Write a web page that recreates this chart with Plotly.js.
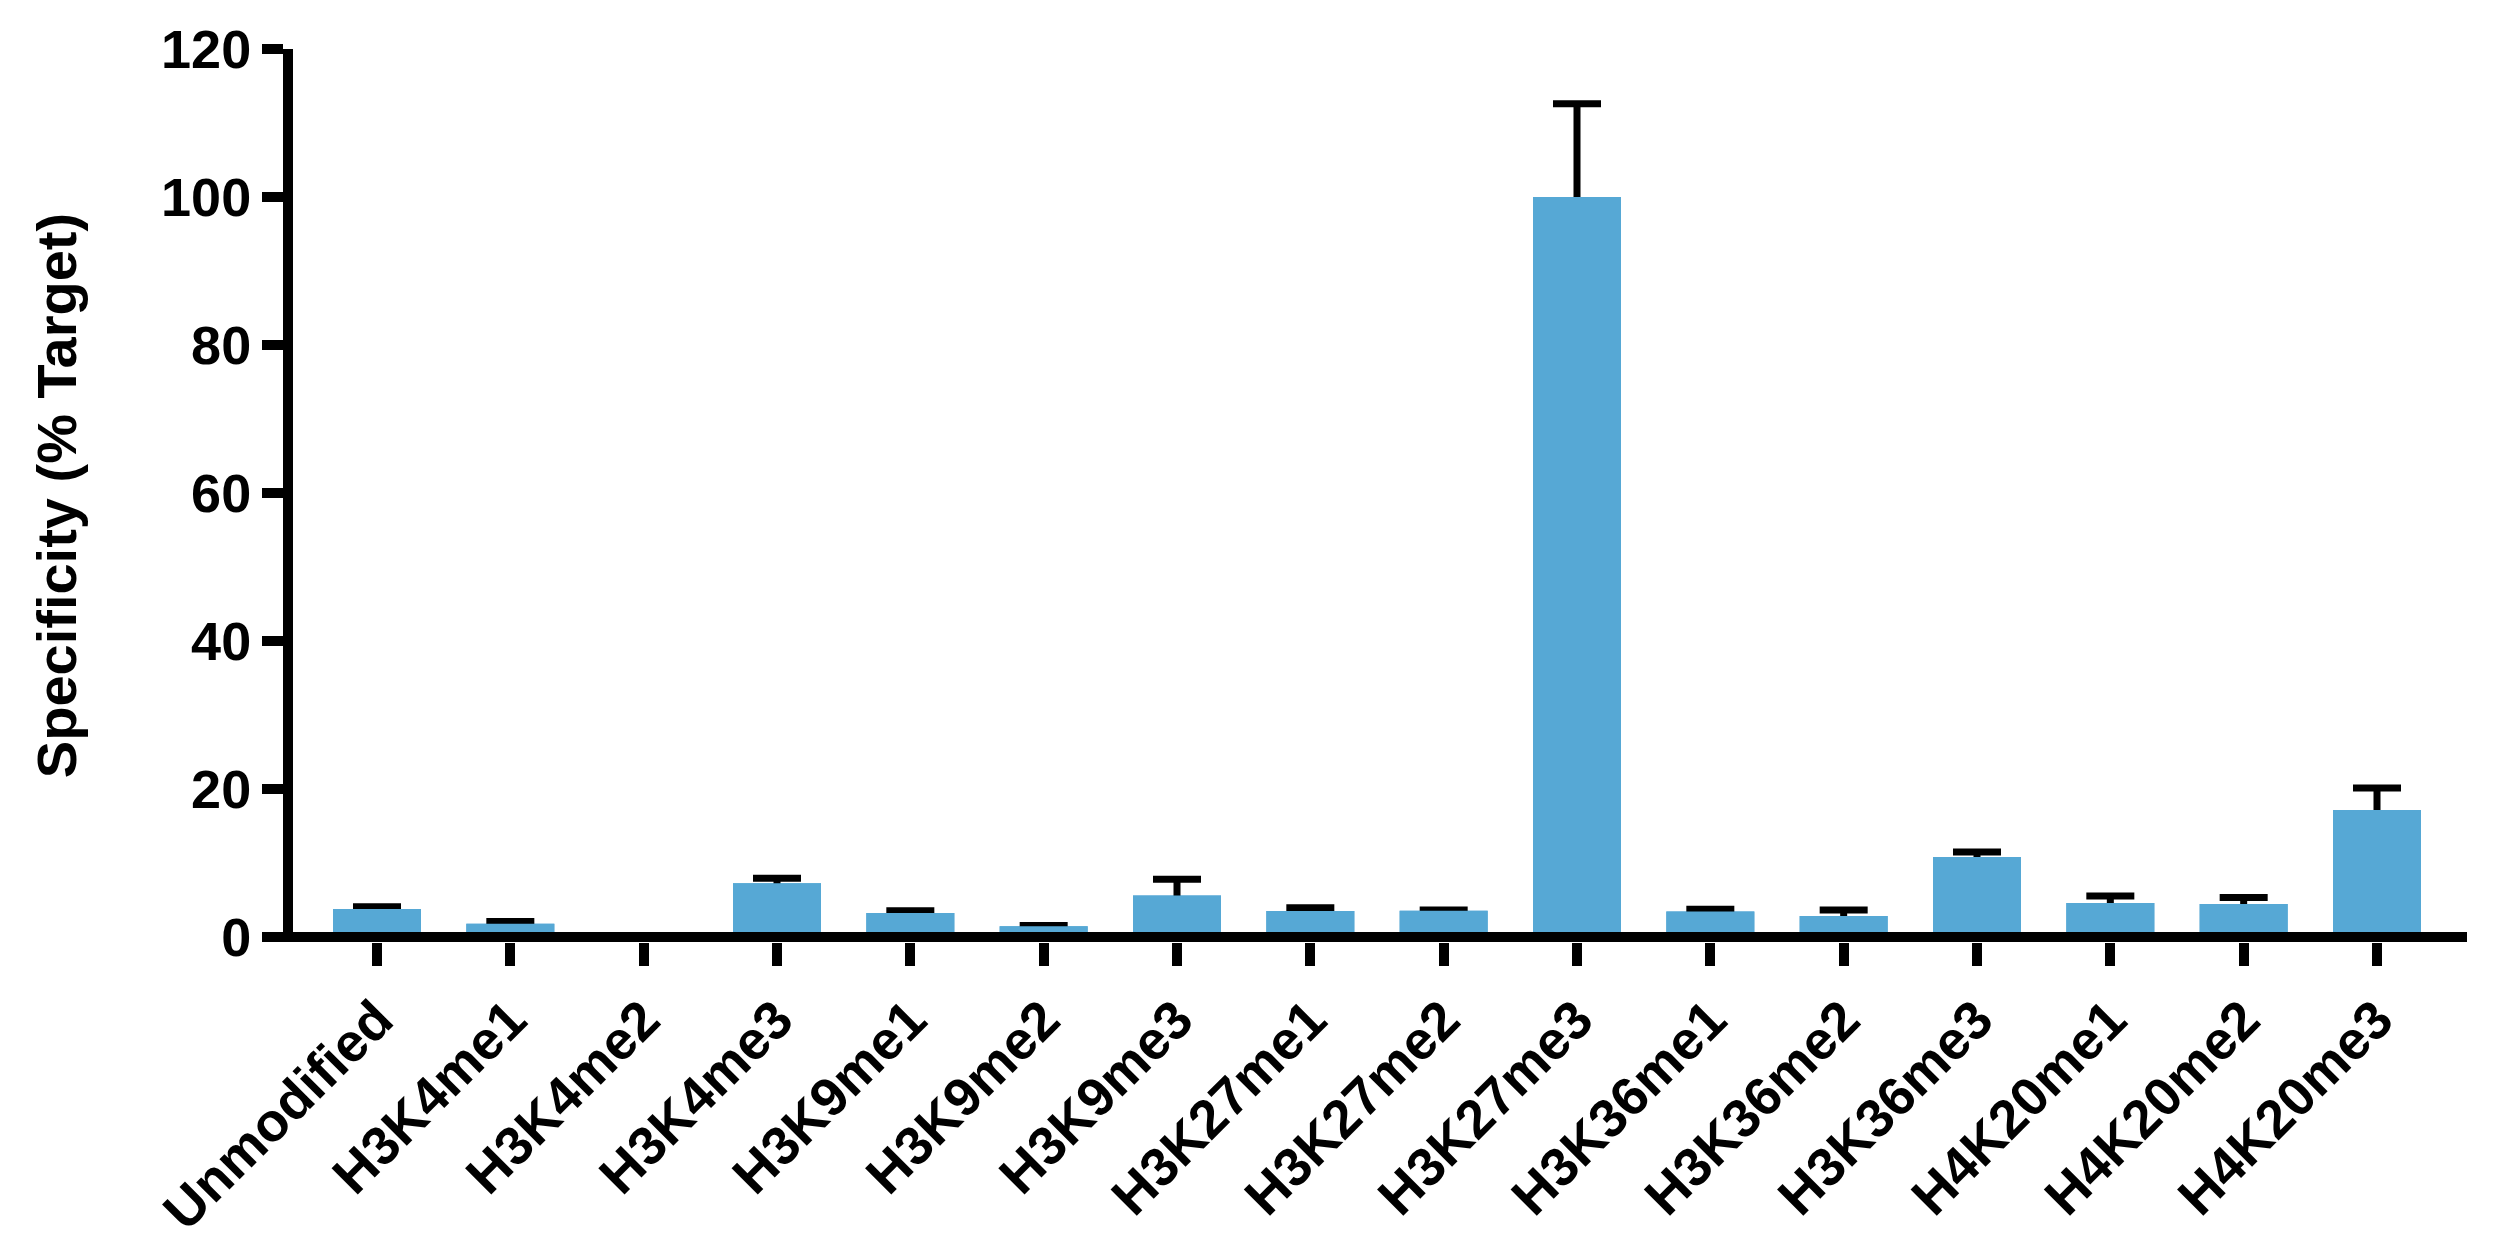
<!DOCTYPE html>
<html>
<head>
<meta charset="utf-8">
<script src="https://cdn.plot.ly/plotly-3.0.1.min.js"></script>
<style>html,body{margin:0;padding:0;background:#fff;}#chart{width:2500px;height:1260px;}</style>
</head>
<body>
<div id="chart"></div>
<script>
const categories = ["Unmodified","H3K4me1","H3K4me2","H3K4me3","H3K9me1","H3K9me2","H3K9me3","H3K27me1","H3K27me2","H3K27me3","H3K36me1","H3K36me2","H3K36me3","H4K20me1","H4K20me2","H4K20me3"];
const specificity = [3.8, 1.8, 0, 7.25, 3.25, 1.45, 5.6, 3.5, 3.55, 100, 3.45, 2.85, 10.8, 4.6, 4.45, 17.15];
const sem = [0.3, 0.3, 0, 0.7, 0.3, 0.1, 2.2, 0.45, 0.1, 12.6, 0.3, 0.8, 0.7, 0.95, 0.9, 3.0];
const yTicks = [0, 20, 40, 60, 80, 100, 120];

const barColor = '#56a8d5';
const font = {family: 'Liberation Sans, Arial, sans-serif', color: '#000', size: 54, weight: 'bold'};

const traces = [
  {
    type: 'bar', x: categories, y: specificity,
    marker: {color: barColor, line: {width: 0}},
    width: 0.66,
    error_y: {type: 'data', symmetric: false, array: sem, arrayminus: specificity,
              color: '#000', thickness: 7, width: 24, visible: true},
    hoverinfo: 'none', showlegend: false
  },
  {
    type: 'bar', x: categories, y: specificity,
    marker: {color: barColor, line: {width: 0}},
    width: 0.66,
    hoverinfo: 'none', showlegend: false
  }
];

const layout = {
  width: 2500, height: 1260,
  margin: {l: 293, r: 33, t: 49, b: 318, pad: 0},
  paper_bgcolor: '#fff', plot_bgcolor: '#fff',
  barmode: 'overlay',
  font: font,
  xaxis: {
    type: 'category', range: [-0.63, 15.675],
    showline: false, zeroline: false, showgrid: false,
    ticks: 'outside', ticklen: 23, tickwidth: 10, tickcolor: '#000',
    tickangle: -45, tickfont: font
  },
  yaxis: {
    range: [-0.676, 120], tickvals: yTicks, ticktext: yTicks.map(String),
    showline: true, linewidth: 10, linecolor: '#000',
    zeroline: false, showgrid: false,
    ticks: 'outside', ticklen: 21, tickwidth: 10, tickcolor: '#000',
    tickfont: font,
    title: {text: 'Specificity (% Target)', font: Object.assign({}, font, {size: 56}), standoff: 70}
  },
  shapes: [
    {type: 'line', xref: 'paper', x0: 0, x1: 1, yref: 'y', y0: 0, y1: 0,
     line: {color: '#000', width: 10}, layer: 'above'}
  ]
};

Plotly.newPlot('chart', traces, layout, {staticPlot: true, displayModeBar: false});
</script>
</body>
</html>
